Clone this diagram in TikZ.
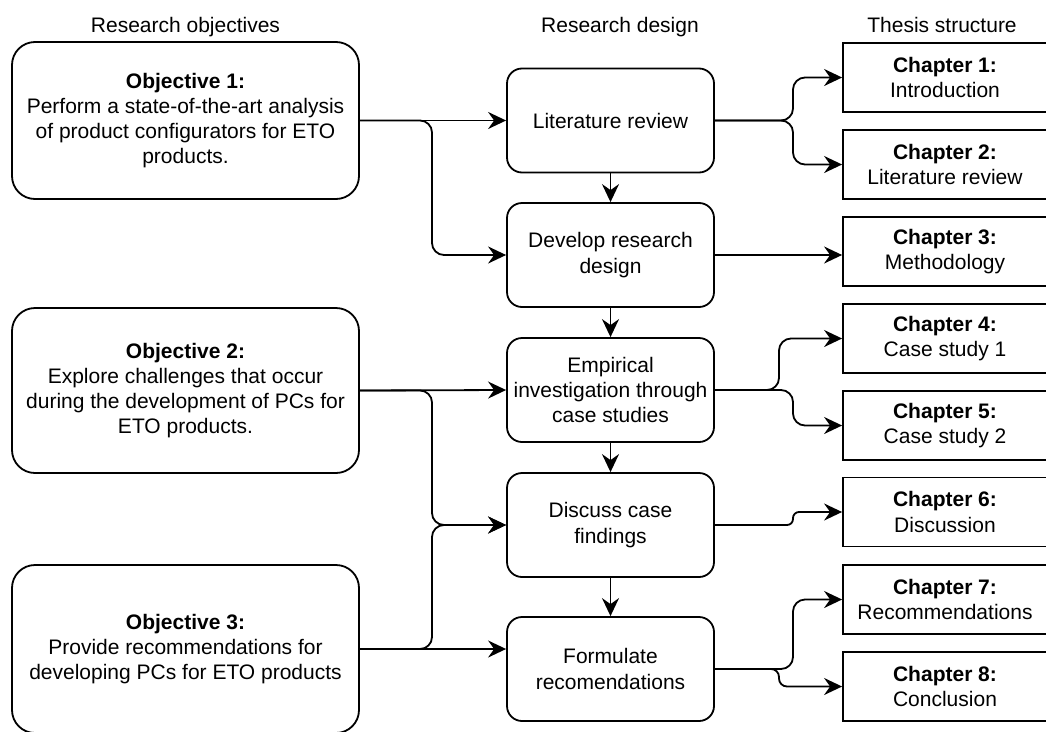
\documentclass[tikz,border=0pt]{standalone}
\usepackage{fontspec}
\setmainfont{Liberation Sans}
\usetikzlibrary{arrows.meta,calc}

\begin{document}
\begin{tikzpicture}[x=1pt,y=-1pt,
  every node/.style={font=\fontsize{21}{25.2}\selectfont, align=center, inner sep=0pt, line width=1.8pt},
  objbox/.style={draw, rounded corners=23pt, minimum width=347pt},
  stagebox/.style={draw, rounded corners=15pt, minimum width=207pt, minimum height=104pt},
  chapbox/.style={draw, minimum width=204pt, minimum height=69pt},
  head/.style={anchor=base},
  arr/.style={line width=1.8pt, -{Stealth[length=18pt,width=17pt,inset=6pt]}},
]
\useasboundingbox (0,0) rectangle (1046,731);
\clip (0,0) rectangle (1046,731);

% column headings
\node[head] (hobj) at (185.5,32) {Research objectives};
\node[head] (hdes) at (620,32) {Research design};
\node[head] (hthe) at (942,32) {Thesis structure};

% research objectives
\node[objbox, minimum height=157pt] (obj1) at (185.5,120.5)
  {\textbf{Objective 1:}\\Perform a state-of-the-art analysis\\of product configurators for ETO\\products.};
\node[objbox, minimum height=165pt] (obj2) at (185.5,390.5)
  {\textbf{Objective 2:}\\Explore challenges that occur\\during the development of PCs for\\ETO products.};
\node[objbox, minimum height=168pt] (obj3) at (185.5,649)
  {\textbf{Objective 3:}\\Provide recommendations for\\developing PCs for ETO products};

% research design stages
\node[stagebox] (lit)  at (610.5,120.5) {Literature review};
\node[stagebox] (dev)  at (610.5,255)   {Develop research\\design};
\node[stagebox] (emp)  at (610.5,390)   {Empirical\\investigation through\\case studies};
\node[stagebox] (dis)  at (610.5,525)   {Discuss case\\findings};
\node[stagebox] (form) at (610.5,669)   {Formulate\\recomendations};

% thesis chapters
\node[chapbox] (ch1) at (945,77.5)  {\textbf{Chapter 1:}\\Introduction};
\node[chapbox] (ch2) at (945,164.5) {\textbf{Chapter 2:}\\Literature review};
\node[chapbox] (ch3) at (945,251.5) {\textbf{Chapter 3:}\\Methodology};
\node[chapbox] (ch4) at (945,338.5) {\textbf{Chapter 4:}\\Case study 1};
\node[chapbox] (ch5) at (945,425.5) {\textbf{Chapter 5:}\\Case study 2};
\node[chapbox] (ch6) at (945,512)   {\textbf{Chapter 6:}\\Discussion};
\node[chapbox] (ch7) at (945,599.5) {\textbf{Chapter 7:}\\Recommendations};
\node[chapbox] (ch8) at (945,686.5) {\textbf{Chapter 8:}\\Conclusion};

% branching columns for the connectors
\coordinate (bx)  at (432,0);
\coordinate (rx)  at (793,0);
\coordinate (rx2) at (779,0);

% objectives -> design
\draw[arr] (obj1.east) -- (lit.west);
\draw[arr, rounded corners=12pt] (obj1.east) -| (bx |- dev.west) -- (dev.west);
\draw[arr] (obj2.east) -- (emp.west);
\draw[arr, rounded corners=12pt] (obj2.east) -| (bx |- dis.west) -- (dis.west);
\draw[arr] (obj3.east) -- (obj3.east -| form.west);
\draw[arr, rounded corners=12pt] (obj3.east) -| (bx |- dis.west) -- (dis.west);

% design sequence
\draw[arr] (lit.south) -- (dev.north);
\draw[arr] (dev.south) -- (emp.north);
\draw[arr] (emp.south) -- (dis.north);
\draw[arr] (dis.south) -- (form.north);

% design -> chapters
\draw[arr, rounded corners=12pt] (lit.east) -| (rx |- ch1.west) -- (ch1.west);
\draw[arr, rounded corners=12pt] (lit.east) -| (rx |- ch2.west) -- (ch2.west);
\draw[arr] (dev.east) -- (dev.east -| ch3.west);
\draw[arr, rounded corners=12pt] (emp.east) -| (rx2 |- ch4.west) -- (ch4.west);
\draw[arr, rounded corners=12pt] (emp.east) -| (rx |- ch5.west) -- (ch5.west);
\draw[arr, rounded corners=6pt] (dis.east) -| (rx |- ch6.west) -- (ch6.west);
\draw[arr, rounded corners=12pt] (form.east) -| (rx |- ch7.west) -- (ch7.west);
\draw[arr, rounded corners=8pt] (form.east) -| (rx2 |- ch8.west) -- (ch8.west);
\end{tikzpicture}
\end{document}
